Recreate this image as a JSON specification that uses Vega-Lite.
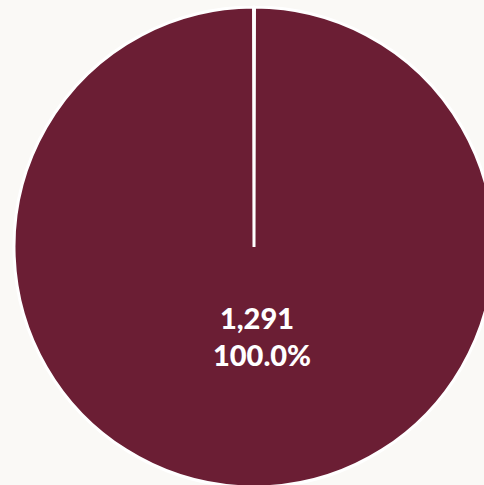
{
  "$schema": "https://vega.github.io/schema/vega-lite/v6.json",
  "autosize": {"type": "none"},
  "width": 460,
  "height": 474,
  "padding": {"left": 24, "top": 10, "right": 0, "bottom": 1},
  "background": "#faf9f6",
  "view": {"stroke": null},
  "data": {"values": [{"category": "Total", "count": 1291, "percent": 1.0}]},
  "encoding": {
    "theta": {"field": "count", "type": "quantitative", "stack": true, "scale": {"range": [0.002, 6.2812]}}
  },
  "layer": [
    {
      "mark": {"type": "arc", "outerRadius": 240, "stroke": "#ffffff", "strokeWidth": 3, "fill": "#6b1e34"}
    },
    {
      "mark": {"type": "text", "radius": 82, "dx": 3, "baseline": "alphabetic", "align": "center", "font": "Lato", "fontWeight": 900, "fontSize": 29, "fill": "#ffffff"},
      "encoding": {"text": {"field": "count", "type": "quantitative", "format": ",d"}}
    },
    {
      "mark": {"type": "text", "radius": 119, "dx": 8, "baseline": "alphabetic", "align": "center", "font": "Lato", "fontWeight": 900, "fontSize": 29, "fill": "#ffffff"},
      "encoding": {"text": {"field": "percent", "type": "quantitative", "format": ".1%"}}
    }
  ]
}
